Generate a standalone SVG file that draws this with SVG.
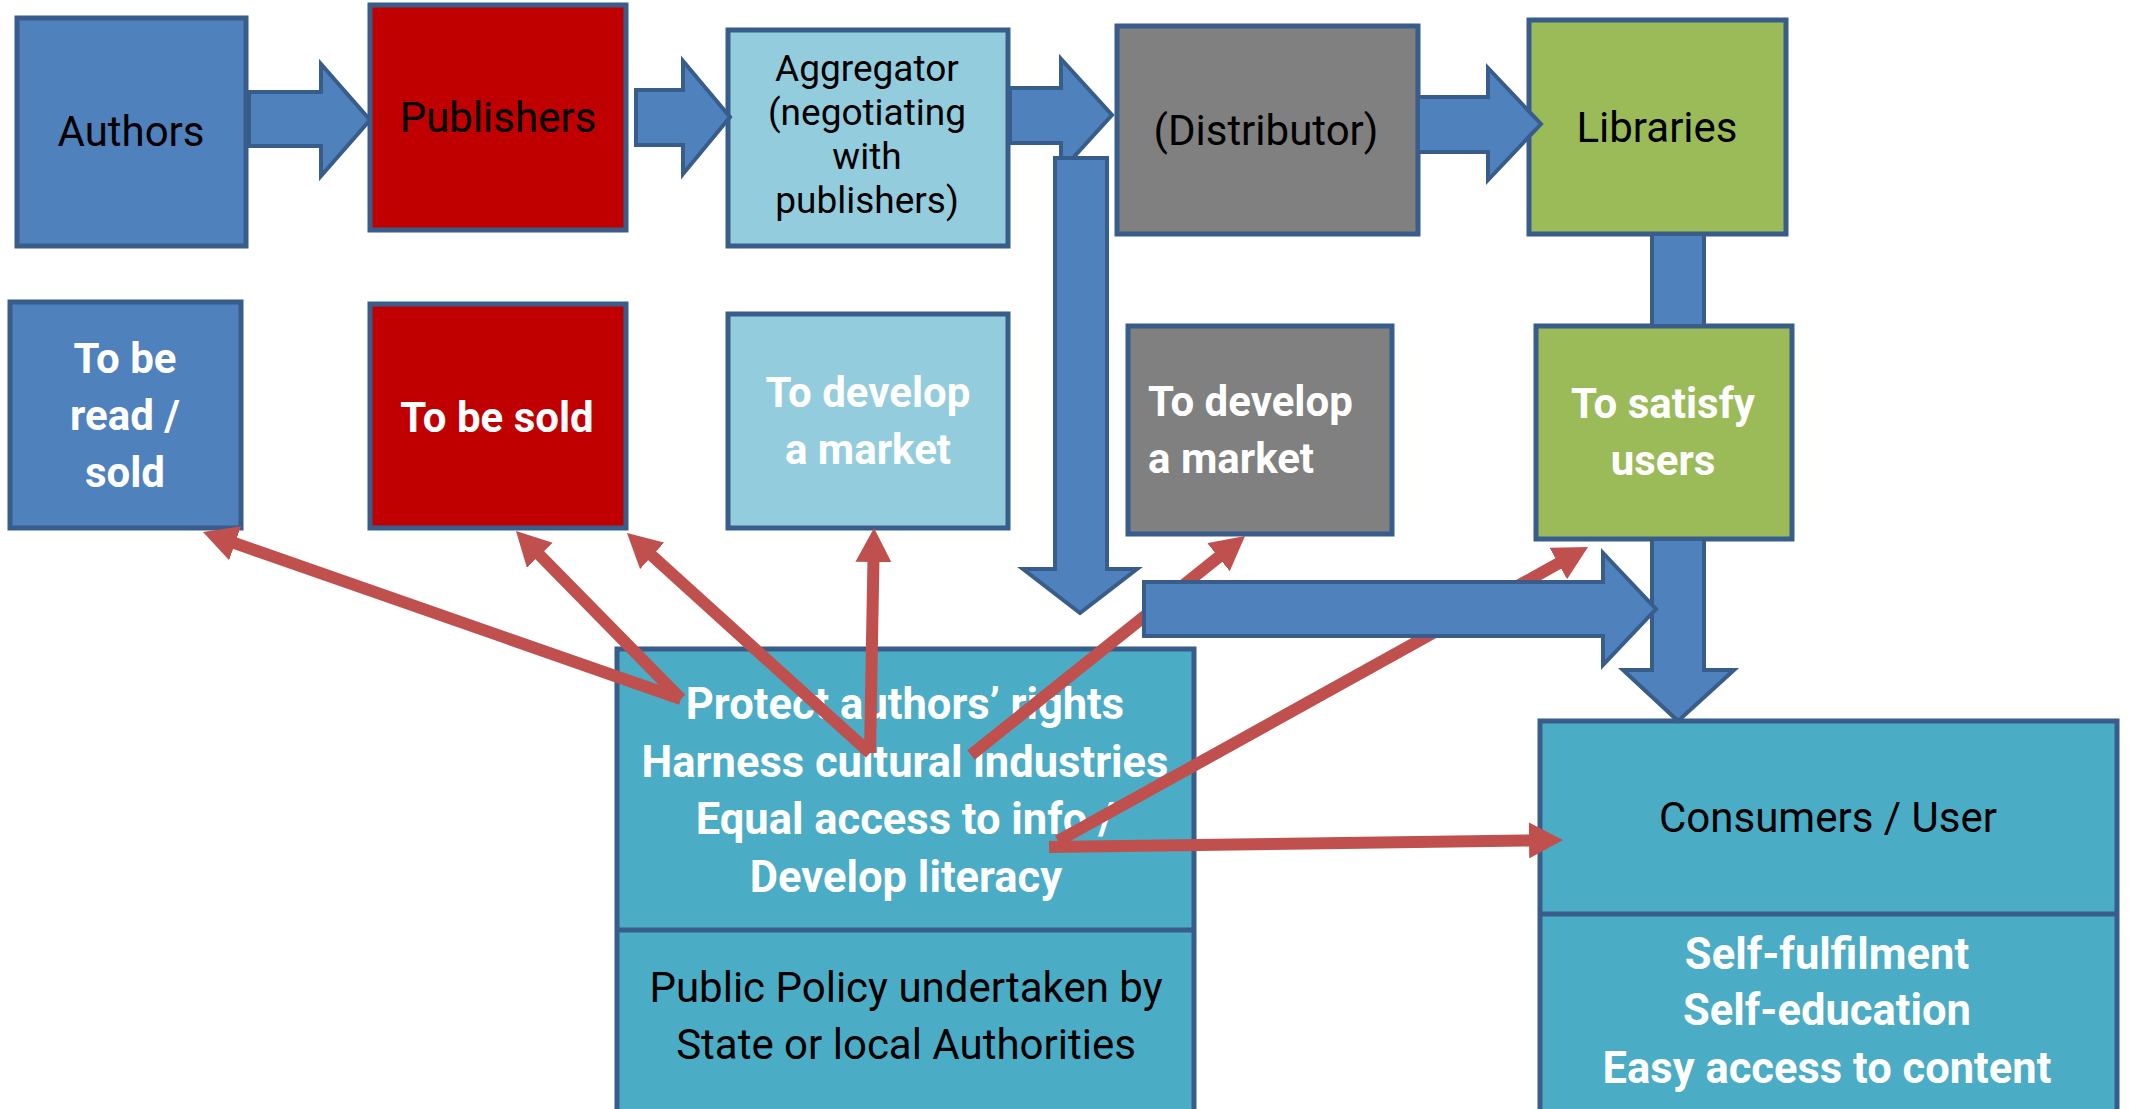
<svg xmlns="http://www.w3.org/2000/svg" width="2129" height="1109" viewBox="0 0 2129 1109">
<style>
.box{stroke:#385D8A;stroke-width:5}
.blue{fill:#4F81BD}
.red{fill:#C00000}
.lblue{fill:#93CDDD}
.gray{fill:#808080}
.green{fill:#9BBB59}
.teal{fill:#4BACC6}
.barrow{fill:#4F81BD;stroke:#385D8A;stroke-width:4;stroke-linejoin:miter}
.rline{stroke:#C0504D;stroke-width:12;fill:none;marker-end:url(#rh)}
.t{font-family:Roboto,"Liberation Sans",sans-serif;font-size:42px;text-anchor:middle;fill:#000}
.w{font-family:Roboto,"Liberation Sans",sans-serif;font-size:42px;font-weight:bold;text-anchor:middle;fill:#fff}
.agg{font-size:37px}
.big{font-size:43.5px}
</style>
<defs>
<marker id="rh" markerUnits="userSpaceOnUse" markerWidth="34" markerHeight="36" viewBox="0 0 34 36" refX="4" refY="18" orient="auto">
<path d="M0,0 L34,18 L0,36 z" fill="#C0504D"/>
</marker>
</defs>
<rect width="2129" height="1109" fill="#fff"/>
<g id="authors"><rect class="box blue" x="17" y="18" width="229" height="228"/><text class="t" x="131" y="146">Authors</text></g>
<g id="publishers"><rect class="box red" x="370" y="5" width="256" height="225"/><text class="t" x="498" y="132">Publishers</text></g>
<g id="aggregator"><rect class="box lblue" x="728" y="30" width="280" height="216"/>
<text class="t agg" x="867" y="81">Aggregator</text><text class="t agg" x="867" y="125">(negotiating</text><text class="t agg" x="867" y="169">with</text><text class="t agg" x="867" y="213">publishers)</text></g>
<g id="distributor"><rect class="box gray" x="1117" y="26" width="301" height="208"/><text class="t" x="1266" y="145">(Distributor)</text></g>
<g id="libraries"><rect class="box green" x="1529" y="20" width="257" height="214"/><text class="t" x="1657" y="142">Libraries</text></g>
<g id="goal-authors"><rect class="box blue" x="10" y="302" width="231" height="226"/>
<text class="w" x="125" y="373">To be</text><text class="w" x="125" y="430">read /</text><text class="w" x="125" y="487">sold</text></g>
<g id="goal-publishers"><rect class="box red" x="370" y="304" width="256" height="224"/><text class="w" x="497" y="432">To be sold</text></g>
<g id="goal-aggregator"><rect class="box lblue" x="728" y="314" width="280" height="214"/>
<text class="w" x="868" y="407">To develop</text><text class="w" x="868" y="464">a market</text></g>
<g id="goal-distributor"><rect class="box gray" x="1128" y="326" width="264" height="208"/>
<text class="w" x="1148" y="416" style="text-anchor:start">To develop</text><text class="w" x="1148" y="473" style="text-anchor:start">a market</text></g>
<g id="goal-libraries"><rect class="box green" x="1536" y="326" width="256" height="213"/>
<text class="w" x="1663" y="418">To satisfy</text><text class="w" x="1663" y="475">users</text></g>
<g id="policy"><rect class="box teal" x="617" y="649" width="577" height="480"/><line x1="617" y1="930" x2="1194" y2="930" stroke="#385D8A" stroke-width="5"/>
<text class="w big" x="905" y="719">Protect authors’ rights</text>
<text class="w big" x="905" y="777">Harness cultural industries</text>
<text class="w big" x="905" y="834">Equal access to info /</text>
<text class="w big" x="906" y="892">Develop literacy</text>
<text class="t" x="906" y="1002">Public Policy undertaken by</text>
<text class="t" x="906" y="1059">State or local Authorities</text></g>
<g id="consumers"><rect class="box teal" x="1540" y="721" width="577" height="410"/><line x1="1540" y1="914" x2="2117" y2="914" stroke="#385D8A" stroke-width="5"/>
<text class="t" x="1828" y="832">Consumers / User</text>
<text class="w big" x="1827" y="969">Self-fulfilment</text>
<text class="w big" x="1827" y="1025">Self-education</text>
<text class="w big" x="1827" y="1083">Easy access to content</text></g>
<g id="connectors">
<polygon class="barrow" points="249,92 321,92 321,64 370,120 321,176 321,146 249,146"/>
<polygon class="barrow" points="636,90 683,90 683,61 730,117 683,174 683,145 636,145"/>
<polygon class="barrow" points="1010,88 1061,88 1061,59 1112,115 1061,171 1061,143 1010,143"/>
<polygon class="barrow" points="1055,158 1107,158 1107,569 1137,569 1080,613 1023,569 1055,569"/>
<polygon class="barrow" points="1418,97 1488,97 1488,68 1541,124 1488,180 1488,152 1418,152"/>
<rect class="barrow" x="1652" y="234" width="52" height="92"/>
<polygon class="barrow" points="1652,539 1704,539 1704,670 1734,670 1678,721 1623,670 1652,670"/>
<line class="rline" x1="681" y1="699" x2="231.3" y2="541.9"/>
<line class="rline" x1="681" y1="699" x2="537" y2="552.4"/>
<line class="rline" x1="870" y1="753" x2="649.2" y2="553.1"/>
<line class="rline" x1="870" y1="753" x2="873.5" y2="558"/>
<line class="rline" x1="971" y1="755" x2="1221.6" y2="554.7"/>
<line class="rline" x1="1058" y1="841" x2="1561.8" y2="561.6"/>
<line class="rline" x1="1049" y1="847" x2="1533" y2="840.4"/>
<polygon class="barrow" points="1144,582 1603,582 1603,553 1656,609 1603,665 1603,636 1144,636"/>
</g>
</svg>
